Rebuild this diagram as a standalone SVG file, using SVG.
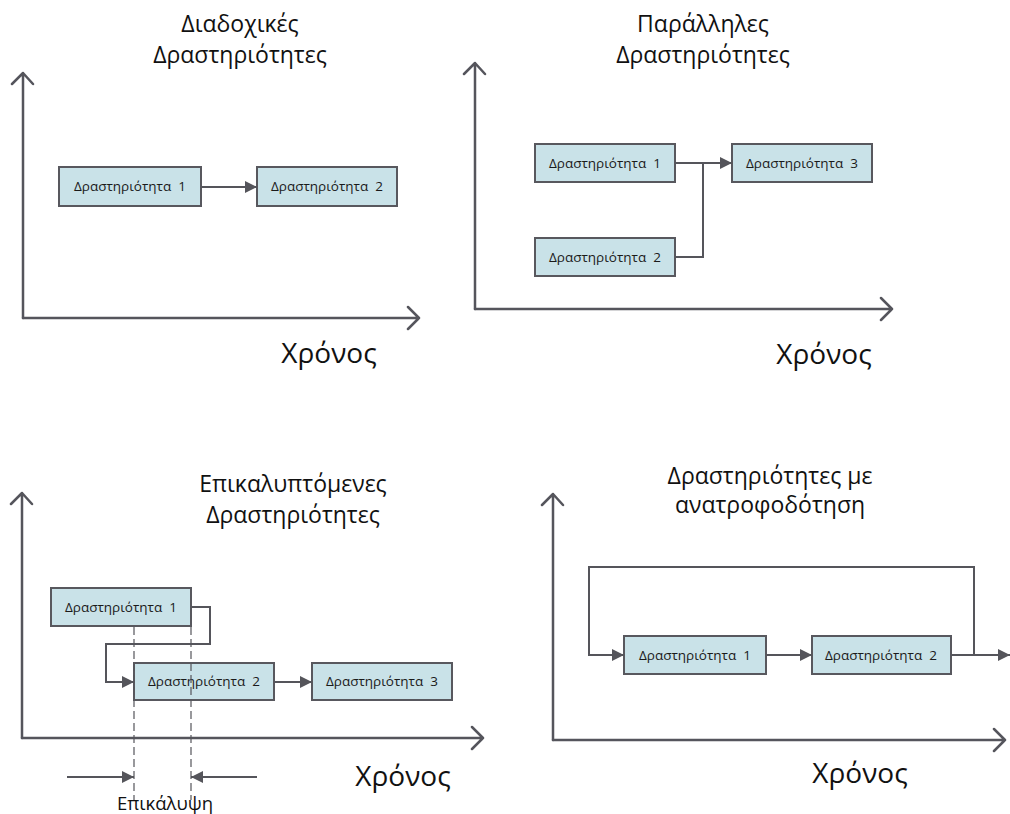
<svg xmlns="http://www.w3.org/2000/svg" width="1010" height="814" viewBox="0 0 1010 814">
<defs>
<style>
.axis{fill:none;stroke:#55555c;stroke-width:2.5;stroke-linecap:round;stroke-linejoin:round}
.box{fill:#c9e2e8;stroke:#58585e;stroke-width:2}
.btxt{font-family:"Open Sans","Noto Sans","DejaVu Sans",sans-serif;font-size:13.5px;fill:#1a1a1a;text-anchor:middle;white-space:pre}
.title{font-family:"Open Sans","Noto Sans","DejaVu Sans",sans-serif;font-size:23px;fill:#111;text-anchor:middle}
.time{font-family:"Open Sans","Noto Sans","DejaVu Sans",sans-serif;font-size:28px;fill:#111;text-anchor:middle}
.conn{fill:none;stroke:#55555b;stroke-width:2}
.dash{fill:none;stroke:#55555b;stroke-width:1.2;stroke-dasharray:8 4}
</style>
<marker id="ah" markerWidth="12" markerHeight="12" viewBox="0 0 12 12" refX="12" refY="6" orient="auto" markerUnits="userSpaceOnUse">
<path d="M0,0 L12,6 L0,12 Z" fill="#55555b"/>
</marker>
</defs>

<!-- Panel 1 -->
<g id="panel1-axes">
<text class="title" x="240" y="32">Διαδοχικές</text>
<text class="title" x="240" y="63">Δραστηριότητες</text>
<path class="axis" d="M23,318 V73 M12,84 L23,73 L33,84"/>
<path class="axis" d="M23,318 H419 M408,307 L419,318 L408,329"/>
<text class="time" x="329" y="363">Χρόνος</text>
</g>
<g id="p1-a1"><rect class="box" x="59" y="167" width="142" height="39"/><text class="btxt" x="130" y="191" xml:space="preserve">Δραστηριότητα  1</text></g>
<g id="p1-a2"><rect class="box" x="257" y="167" width="140" height="39"/><text class="btxt" x="327" y="191" xml:space="preserve">Δραστηριότητα  2</text></g>

<!-- Panel 2 -->
<g id="panel2-axes">
<text class="title" x="703" y="32">Παράλληλες</text>
<text class="title" x="703" y="63">Δραστηριότητες</text>
<path class="axis" d="M475,309 V63 M464,74 L475,63 L485,74"/>
<path class="axis" d="M475,309 H892 M881,298 L892,309 L881,320"/>
<text class="time" x="824" y="364">Χρόνος</text>
</g>
<g id="p2-a1"><rect class="box" x="535" y="144" width="140" height="38"/><text class="btxt" x="605" y="168" xml:space="preserve">Δραστηριότητα  1</text></g>
<g id="p2-a2"><rect class="box" x="535" y="238" width="140" height="38"/><text class="btxt" x="605" y="262" xml:space="preserve">Δραστηριότητα  2</text></g>
<g id="p2-a3"><rect class="box" x="732" y="144" width="140" height="38"/><text class="btxt" x="802" y="168" xml:space="preserve">Δραστηριότητα  3</text></g>

<!-- Panel 3 -->
<g id="panel3-axes">
<text class="title" x="293" y="492">Επικαλυπτόμενες</text>
<text class="title" x="293" y="523">Δραστηριότητες</text>
<path class="axis" d="M22,738 V493 M11,504 L22,493 L32,504"/>
<path class="axis" d="M22,738 H483 M472,727 L483,738 L472,749"/>
<text class="time" x="403" y="786">Χρόνος</text>
</g>
<g id="p3-a1"><rect class="box" x="51" y="588" width="140" height="38"/><text class="btxt" x="121" y="612" xml:space="preserve">Δραστηριότητα  1</text></g>
<g id="p3-a2"><rect class="box" x="134" y="663" width="140" height="37"/><text class="btxt" x="204" y="686" xml:space="preserve">Δραστηριότητα  2</text></g>
<g id="p3-a3"><rect class="box" x="312" y="663" width="140" height="37"/><text class="btxt" x="382" y="686" xml:space="preserve">Δραστηριότητα  3</text></g>
<g id="p3-overlap">
<text class="btxt" style="font-size:18.5px;fill:#111" x="165" y="810">Επικάλυψη</text>
</g>

<!-- Panel 4 -->
<g id="panel4-axes">
<text class="title" x="770" y="484">Δραστηριότητες με</text>
<text class="title" x="770" y="513">ανατροφοδότηση</text>
<path class="axis" d="M553,740 V494 M542,505 L553,494 L563,505"/>
<path class="axis" d="M553,740 H1005 M994,729 L1005,740 L994,751"/>
<text class="time" x="860" y="783">Χρόνος</text>
</g>
<g id="p4-a1"><rect class="box" x="624" y="636" width="142" height="38"/><text class="btxt" x="695" y="660" xml:space="preserve">Δραστηριότητα  1</text></g>
<g id="p4-a2"><rect class="box" x="812" y="636" width="139" height="38"/><text class="btxt" x="881" y="660" xml:space="preserve">Δραστηριότητα  2</text></g>

<g id="connectors">
<path class="conn" d="M201,187 H257" marker-end="url(#ah)"/>
<path class="conn" d="M675,163 H732" marker-end="url(#ah)"/>
<path class="conn" d="M675,257 H703 V163"/>
<path class="conn" d="M191,607 H210 V644 H106 V682 H134" marker-end="url(#ah)"/>
<path class="conn" d="M274,682 H312" marker-end="url(#ah)"/>
<path class="dash" d="M134,627 V800"/>
<path class="dash" d="M191,627 V800"/>
<path class="conn" d="M67,777 H134" marker-end="url(#ah)"/>
<path class="conn" d="M257,777 H191" marker-end="url(#ah)"/>
<path class="conn" d="M974,655 V567 H589 V655 H624" marker-end="url(#ah)"/>
<path class="conn" d="M766,655 H812" marker-end="url(#ah)"/>
<path class="conn" d="M951,655 H1010" marker-end="url(#ah)"/>
</g>
</svg>
